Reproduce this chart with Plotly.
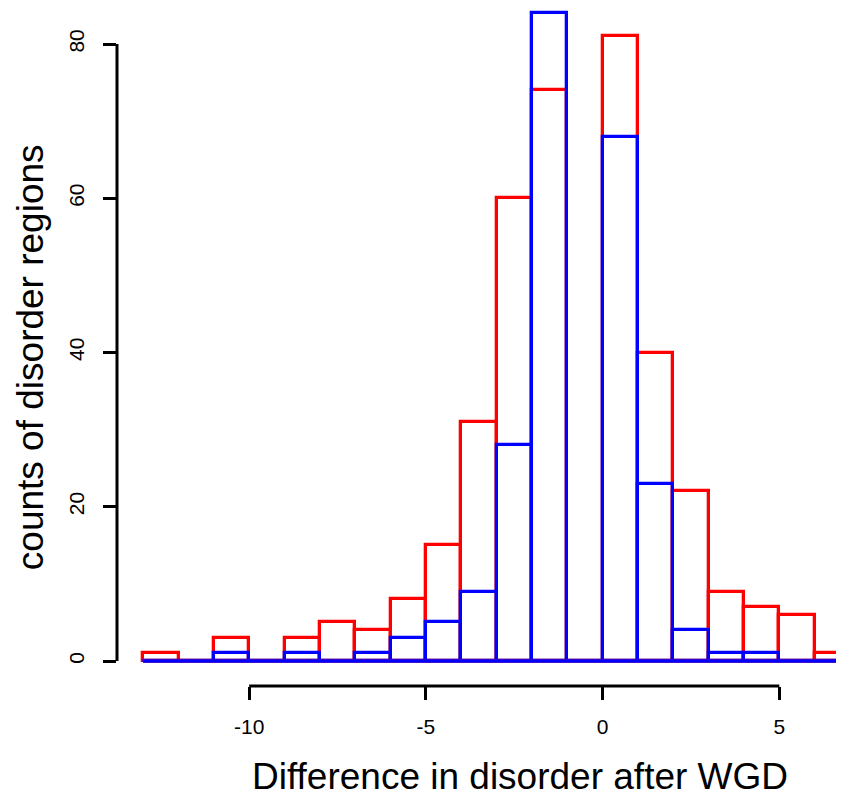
import plotly.graph_objects as go

# Histogram bins (left edges, width 1)
bin_left = [-13, -12, -11, -10, -9, -8, -7, -6, -5, -4, -3, -2, -1, 0, 1, 2, 3, 4, 5, 6]
bin_width = 1
counts_red = [1, 0, 3, 0, 3, 5, 4, 8, 15, 31, 60, 74, 0, 81, 40, 22, 9, 7, 6, 1]
counts_blue = [0, 0, 1, 0, 1, 0, 1, 3, 5, 9, 28, 84, 0, 68, 23, 4, 1, 1, 0, 0]

x_ticks = [-10, -5, 0, 5]
y_ticks = [0, 20, 40, 60, 80]

x_title = "Difference in disorder after WGD"
y_title = "counts of disorder regions"

centers = [b + bin_width / 2 for b in bin_left]
edge_lo = bin_left[0]
edge_hi = bin_left[-1] + bin_width

FONT = "Liberation Sans, Arial, Helvetica, sans-serif"
LW = 3.3

fig = go.Figure()
for counts, col in [(counts_red, "#ff0000"), (counts_blue, "#0000ff")]:
    fig.add_trace(go.Bar(
        x=centers, y=counts, width=bin_width,
        marker=dict(color="rgba(0,0,0,0)", line=dict(color=col, width=LW)),
        showlegend=False, hoverinfo="x+y",
    ))
for col in ["#ff0000", "#0000ff"]:
    fig.add_trace(go.Scatter(
        x=[edge_lo, edge_hi], y=[0, 0], mode="lines",
        line=dict(color=col, width=LW), showlegend=False, hoverinfo="skip",
    ))

fig.update_layout(
    width=836, height=789, autosize=False,
    margin=dict(l=109, r=0, t=0, b=111, pad=0),
    paper_bgcolor="white", plot_bgcolor="white",
    barmode="overlay", bargap=0,
    font=dict(family=FONT, color="black"),
    xaxis=dict(
        range=[-13.74, 6.83], tickvals=x_ticks, ticktext=[str(v) for v in x_ticks],
        ticks="outside", ticklen=13, tickwidth=3, tickcolor="black",
        showline=False, showgrid=False, zeroline=False,
        tickfont=dict(size=21, family=FONT, color="black"),
        ticklabelstandoff=9,
    ),
    yaxis=dict(
        range=[-3.24, 84.67], tickvals=y_ticks, ticktext=[str(v) for v in y_ticks],
        ticks="outside", ticklen=13, tickwidth=3, tickcolor="black",
        showline=False, showgrid=False, zeroline=False, tickangle=-90,
        tickfont=dict(size=21, family=FONT, color="black"),
        ticklabelstandoff=11,
    ),
    shapes=[
        dict(type="line", xref="x", yref="paper", x0=x_ticks[0], x1=x_ticks[-1], y0=0, y1=0,
             line=dict(color="black", width=3)),
        dict(type="line", xref="paper", yref="y", x0=0, x1=0, y0=y_ticks[0], y1=y_ticks[-1],
             line=dict(color="black", width=3)),
    ],
    annotations=[
        dict(text=x_title, xref="paper", yref="paper", x=0.555, y=0, yshift=-90,
             xanchor="center", yanchor="middle", showarrow=False,
             font=dict(size=37, family=FONT, color="black")),
        dict(text=y_title, xref="paper", yref="paper", x=0, y=0.485, xshift=-87,
             xanchor="center", yanchor="middle", textangle=-90, showarrow=False,
             font=dict(size=37, family=FONT, color="black")),
    ],
)

fig.write_html("out.html")
